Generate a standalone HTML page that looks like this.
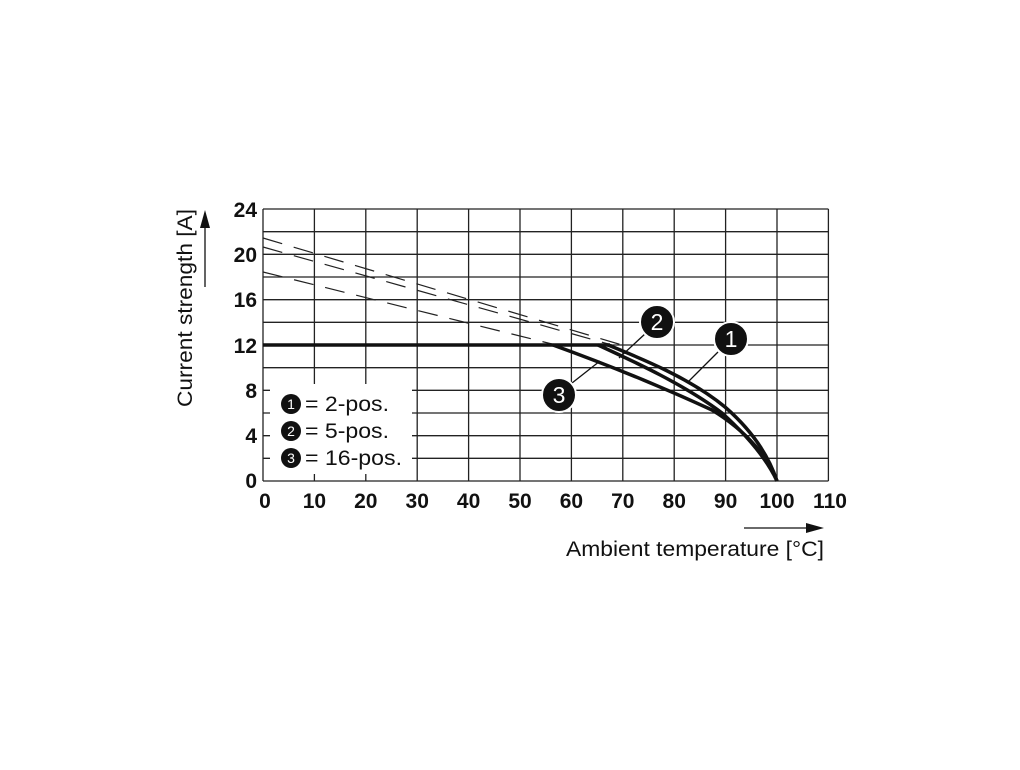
<!DOCTYPE html>
<html><head><meta charset="utf-8"><style>html,body{margin:0;padding:0;background:#fff}</style></head>
<body>
<svg width="1020" height="765" viewBox="0 0 1020 765" xmlns="http://www.w3.org/2000/svg" font-family="Liberation Sans, sans-serif">
<rect width="1020" height="765" fill="#fff"/>
<g stroke="#222" stroke-width="1.3" fill="none">
<path d="M263 209V481M314.4 209V481M365.8 209V481M417.2 209V481M468.6 209V481M520 209V481M571.4 209V481M622.8 209V481M674.2 209V481M725.6 209V481M777 209V481M828.4 209V481"/>
<path d="M263 209H828.4M263 231.7H828.4M263 254.3H828.4M263 277H828.4M263 299.7H828.4M263 322.3H828.4M263 345H828.4M263 367.7H828.4M263 390.3H828.4M263 413H828.4M263 435.7H828.4M263 458.3H828.4M263 481H828.4"/>
</g>
<g stroke="#222" stroke-width="1.2" fill="none" stroke-dasharray="20,12">
<line x1="263" y1="238" x2="622" y2="345"/>
<line x1="263" y1="247" x2="612" y2="345"/>
<line x1="263" y1="272" x2="556" y2="345"/>
</g>
<rect x="270" y="384" width="142" height="90" fill="#fff"/>
<g stroke="#111" stroke-width="3.5" fill="none">
<line x1="263" y1="345" x2="610" y2="345"/>
<path d="M608 345 C640 358 690 378 725 407 C755 433 770 460 777 481"/>
<path d="M598 345 C635 362 685 385 722 413 C752 440 768 462 777 481"/>
<path d="M553 345 C600 362 660 386 712 410 C748 432 768 458 777 481"/>
</g>
<g stroke="#111" stroke-width="1.3">
<line x1="646" y1="333" x2="619" y2="358"/>
<line x1="718" y1="352" x2="688" y2="382"/>
<line x1="572" y1="383" x2="600" y2="361"/>
</g>
<g fill="#111" stroke="#fff" stroke-width="2">
<circle cx="657" cy="322" r="17"/><circle cx="731" cy="339" r="17"/><circle cx="559" cy="395" r="17"/>
</g>
<g fill="#fff" font-size="23" text-anchor="middle">
<text x="657" y="330">2</text><text x="731" y="347">1</text><text x="559" y="403">3</text>
</g>
<g fill="#111"><circle cx="291" cy="404" r="10"/><circle cx="291" cy="431" r="10"/><circle cx="291" cy="458" r="10"/></g>
<g fill="#fff" font-size="14" text-anchor="middle"><text x="291" y="409">1</text><text x="291" y="436">2</text><text x="291" y="463">3</text></g>
<g fill="#111" font-size="21"><text x="305" y="411" textLength="84" lengthAdjust="spacingAndGlyphs">= 2-pos.</text><text x="305" y="438" textLength="84" lengthAdjust="spacingAndGlyphs">= 5-pos.</text><text x="305" y="465" textLength="97" lengthAdjust="spacingAndGlyphs">= 16-pos.</text></g>
<g fill="#111" font-size="21" font-weight="bold" text-anchor="end">
<text x="257" y="217">24</text><text x="257" y="262">20</text><text x="257" y="307">16</text><text x="257" y="353">12</text><text x="257" y="398">8</text><text x="257" y="443">4</text><text x="257" y="488">0</text>
</g>
<g fill="#111" font-size="21" font-weight="bold" text-anchor="middle">
<text x="265" y="508">0</text><text x="314.4" y="508">10</text><text x="365.8" y="508">20</text><text x="417.2" y="508">30</text><text x="468.6" y="508">40</text><text x="520" y="508">50</text><text x="571.4" y="508">60</text><text x="622.8" y="508">70</text><text x="674.2" y="508">80</text><text x="725.6" y="508">90</text><text x="777" y="508">100</text><text x="830" y="508">110</text>
</g>
<text x="566" y="556" font-size="21" fill="#111" textLength="258" lengthAdjust="spacingAndGlyphs">Ambient temperature [°C]</text>
<line x1="744" y1="528" x2="808" y2="528" stroke="#111" stroke-width="1.3"/>
<path d="M824 528 L806 523 L806 533Z" fill="#111"/>
<text transform="translate(192 407) rotate(-90)" font-size="21" fill="#111" textLength="198" lengthAdjust="spacingAndGlyphs">Current strength [A]</text>
<line x1="205" y1="287" x2="205" y2="226" stroke="#111" stroke-width="1.3"/>
<path d="M205 210 L200 228 L210 228Z" fill="#111"/>
</svg>
</body></html>
